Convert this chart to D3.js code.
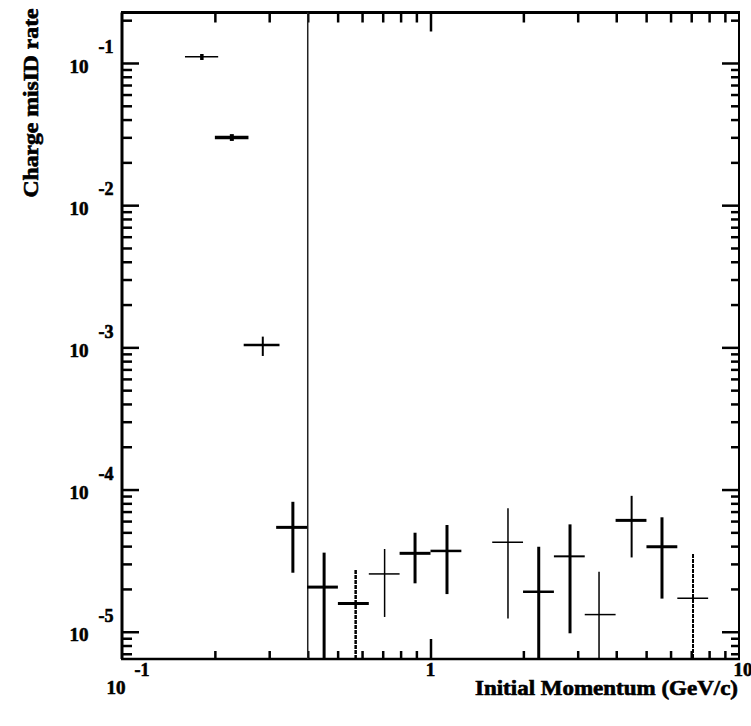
<!DOCTYPE html>
<html><head><meta charset="utf-8">
<script src="https://cdn.jsdelivr.net/npm/d3@7"></script>
<style>body{margin:0;background:#fff}svg{display:block}</style>
</head><body><svg id="c" width="751" height="726"></svg>
<script>
// ---- data ----
const momentum   = [0.1815, 0.227, 0.286, 0.358, 0.452, 0.572, 0.710, 0.891, 1.131, 1.783, 2.243, 2.833, 3.518, 4.487, 5.628, 7.095];
const binLow     = [0.160, 0.200, 0.248, 0.316, 0.398, 0.501, 0.631, 0.794, 1.000, 1.585, 1.995, 2.512, 3.162, 3.981, 5.012, 6.310];
const binHigh    = [0.205, 0.257, 0.324, 0.398, 0.501, 0.631, 0.794, 1.000, 1.259, 1.995, 2.512, 3.162, 3.981, 5.012, 6.310, 7.943];
const misIdRate  = [0.1107, 0.0299, 1.04e-3, 5.42e-5, 2.06e-5, 1.58e-5, 2.55e-5, 3.56e-5, 3.70e-5, 4.26e-5, 1.91e-5, 3.39e-5, 1.32e-5, 6.07e-5, 3.96e-5, 1.72e-5];
const rateHigh   = [0.1157, 0.0316, 1.19e-3, 8.2e-5, 3.6e-5, 2.72e-5, 3.82e-5, 4.97e-5, 5.63e-5, 7.38e-5, 3.96e-5, 5.69e-5, 2.64e-5, 9.03e-5, 6.38e-5, 3.52e-5];
const rateLow    = [0.1050, 0.0283, 8.7e-4, 2.6e-5, 0, 0, 1.27e-5, 2.19e-5, 1.84e-5, 1.24e-5, 0, 9.75e-6, 0, 3.33e-5, 1.71e-5, 0];
const cutMomentum = 0.4;
const xDomain = [0.1, 10];
const yDomain = [6.43e-6, 0.2265];
const yMajorTicks = [1e-5, 1e-4, 1e-3, 1e-2, 1e-1];
const yTickExp = ["-5", "-4", "-3", "-2", "-1"];
const xTitle = "Initial Momentum (GeV/c)";
const yTitle = "Charge misID rate";

// ---- styles (per point) ----
const hWidth = [1.5, 3.5, 2.5, 3, 3, 3, 1.5, 3, 2.5, 1.5, 2.5, 2, 1.5, 3, 3, 1.5];
const vWidth = [3.5, 4, 2, 3, 3, 2.5, 1.5, 3, 3, 1.5, 3, 3, 1.5, 2, 3, 2];
const vDash  = [null, null, null, null, null, "4,1", null, null, null, null, null, null, null, null, null, "4,1"];

const L = 122, R = 739, T = 12.5, B = 659;
const svg = d3.select("#c");
const x = d3.scaleLog().domain(xDomain).range([L, R]);
const y = d3.scaleLog().domain(yDomain).range([B, T]);
const font = "'Liberation Serif', 'DejaVu Serif', serif";

// minor tick values
const yMinor = [];
for (let e = -6; e <= -1; e++) for (let k = 2; k <= 9; k++) { const v = k * Math.pow(10, e); if (v > yDomain[0] && v < yDomain[1]) yMinor.push(v); }
const xMinor = [];
for (let e = -1; e <= 0; e++) for (let k = 2; k <= 9; k++) xMinor.push(k * Math.pow(10, e));

function axisG(axis, tx, ty) {
  const g = svg.append("g").attr("transform", `translate(${tx},${ty})`).call(axis);
  g.select(".domain").remove();
  g.selectAll(".tick line").attr("stroke", "#000").attr("stroke-width", 2.5);
  g.selectAll(".tick text").remove();
  return g;
}
axisG(d3.axisLeft(y).tickValues(yMinor).tickSize(-10).tickFormat(""), L, 0);
axisG(d3.axisLeft(y).tickValues(yMajorTicks).tickSize(-17).tickFormat(""), L, 0);
axisG(d3.axisRight(y).tickValues(yMinor).tickSize(-8).tickFormat(""), R, 0);
axisG(d3.axisRight(y).tickValues(yMajorTicks).tickSize(-17).tickFormat(""), R, 0);
axisG(d3.axisTop(x).tickValues(xMinor).tickSize(-10).tickFormat(""), 0, T);
axisG(d3.axisTop(x).tickValues([1]).tickSize(-19).tickFormat(""), 0, T);
axisG(d3.axisBottom(x).tickValues(xMinor).tickSize(-8).tickFormat(""), 0, B);
axisG(d3.axisBottom(x).tickValues([1]).tickSize(-20).tickFormat(""), 0, B);

// frame
const frame = svg.append("g").attr("stroke", "#000");
frame.append("line").attr("x1", L - 1).attr("x2", R + 1).attr("y1", T).attr("y2", T).attr("stroke-width", 3);
frame.append("line").attr("x1", L - 1).attr("x2", R + 1).attr("y1", B).attr("y2", B).attr("stroke-width", 2.5);
frame.append("line").attr("x1", L).attr("x2", L).attr("y1", T).attr("y2", B).attr("stroke-width", 3);
frame.append("line").attr("x1", R).attr("x2", R).attr("y1", T).attr("y2", B).attr("stroke-width", 2);

// cut line
svg.append("line").attr("x1", x(cutMomentum)).attr("x2", x(cutMomentum))
  .attr("y1", T).attr("y2", B).attr("stroke", "#222").attr("stroke-width", 1.5);

// points
const pts = momentum.map((m, i) => ({ m, lo: binLow[i], hi: binHigh[i], v: misIdRate[i], vh: rateHigh[i], vl: rateLow[i], i }));
const g = svg.append("g");
g.selectAll("line.h").data(pts).join("line").attr("class", "h")
  .attr("x1", d => x(d.lo)).attr("x2", d => x(d.hi))
  .attr("y1", d => y(d.v)).attr("y2", d => y(d.v))
  .attr("stroke", "#000").attr("stroke-width", d => hWidth[d.i]);
g.selectAll("line.v").data(pts).join("line").attr("class", "v")
  .attr("x1", d => x(d.m)).attr("x2", d => x(d.m))
  .attr("y1", d => y(d.vh)).attr("y2", d => d.vl > 0 ? y(d.vl) : B)
  .attr("stroke", "#000").attr("stroke-width", d => vWidth[d.i])
  .attr("stroke-dasharray", d => vDash[d.i]);

// y tick labels
const lab = svg.append("g").attr("font-family", font).attr("font-weight", "bold")
  .attr("fill", "#000").attr("stroke", "#000").attr("stroke-width", 0.6);
yMajorTicks.forEach((v, i) => {
  lab.append("text").attr("x", 79).attr("y", y(v) + 3).attr("dy", "0.35em")
    .attr("text-anchor", "middle").attr("font-size", 19).text("10");
  lab.append("text").attr("x", 106).attr("y", y(v) - 16).attr("dy", "0.35em")
    .attr("text-anchor", "middle").attr("font-size", 18).text(yTickExp[i]);
});
// x tick labels
lab.append("text").attr("x", x(0.1) - 6).attr("y", 687).attr("dy", "0.35em")
  .attr("text-anchor", "middle").attr("font-size", 19).text("10");
lab.append("text").attr("x", x(0.1) + 20).attr("y", 670).attr("dy", "0.35em")
  .attr("text-anchor", "middle").attr("font-size", 18).text("-1");
lab.append("text").attr("x", x(1)).attr("y", 669).attr("dy", "0.35em")
  .attr("text-anchor", "middle").attr("font-size", 19).text("1");
lab.append("text").attr("x", x(10) + 4).attr("y", 669).attr("dy", "0.35em")
  .attr("text-anchor", "middle").attr("font-size", 19).text("10");

// titles
lab.append("text").attr("x", 738).attr("y", 695).attr("text-anchor", "end")
  .attr("font-size", 20).attr("textLength", 263).attr("lengthAdjust", "spacingAndGlyphs").text(xTitle);
lab.append("text").attr("transform", "translate(38,103) rotate(-90)").attr("text-anchor", "middle")
  .attr("font-size", 20).attr("textLength", 189).attr("lengthAdjust", "spacingAndGlyphs").text(yTitle);
</script></body></html>
